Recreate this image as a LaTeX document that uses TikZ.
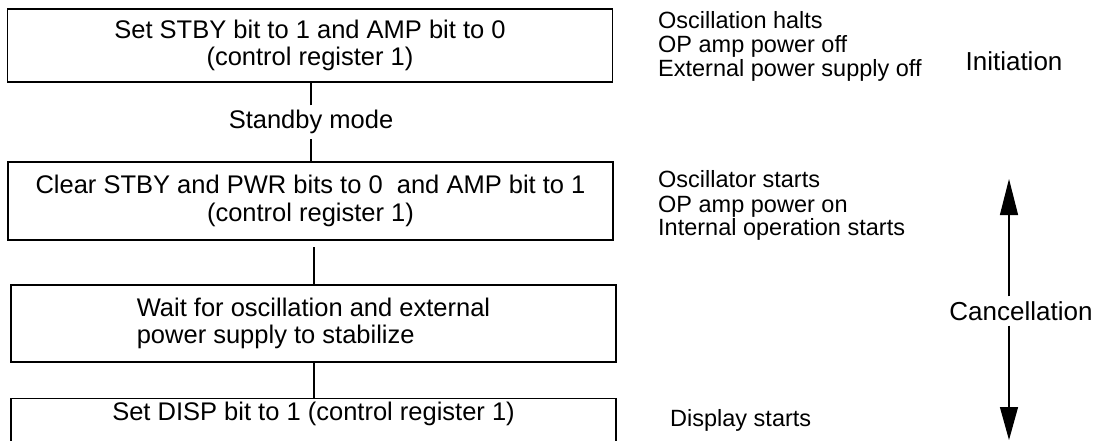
\documentclass[tikz,border=0pt]{standalone}
\usepackage{fontspec}
\setmainfont{Liberation Sans}
\usetikzlibrary{arrows.meta}
\begin{document}
\begin{tikzpicture}[x=1pt,y=-1pt,
  stepbox/.style={draw,line width=1.2pt,minimum width=605pt,inner sep=0pt,align=center,font=\fontsize{25.5}{27.5}\selectfont},
  note/.style={anchor=base west,inner sep=0pt,font=\fontsize{23.5}{24}\selectfont},
  phase/.style={inner sep=5pt,font=\fontsize{26}{28}\selectfont},
  wire/.style={line width=1.2pt}]
  \useasboundingbox (0,0) rectangle (1101,441);
  \node[stepbox,minimum height=73pt] (stby) at (310,45.5) {Set STBY bit to 1 and AMP bit to 0\\(control register 1)};
  \node[inner sep=5pt,anchor=base,font=\fontsize{25.5}{27.5}\selectfont] (sb) at (311,129) {Standby mode};
  \node[stepbox,minimum height=78pt] (clr) at (310.5,201) {Clear STBY and PWR bits to 0\ \ and AMP bit to 1\\(control register 1)};
  \node[stepbox,minimum height=77pt,align=left] (wait) at (313.5,323.5) {Wait for oscillation and external\\power supply to stabilize};
  \node[stepbox,anchor=north,minimum height=0pt,inner ysep=3pt,text height=19pt,text depth=40pt] (disp) at (313.5,398) {Set DISP bit to 1 (control register 1)};
  \draw[wire] (sb.north) -- (sb.north |- stby.south);
  \draw[wire] (sb.south) -- (sb.south |- clr.north);
  \coordinate (gap) at (314,247);
  \draw[wire] (gap) -- (gap |- wait.north);
  \draw[wire] (gap |- wait.south) -- (gap |- disp.north);
  \foreach \y/\lab [count=\i] in {29/Oscillation halts, 53/OP amp power off, 77/External power supply off}
    \node[note] (halt\i) at (658,\y) {\lab};
  \foreach \y/\lab [count=\i] in {188/Oscillator starts, 212/OP amp power on, 236/Internal operation starts}
    \node[note] (start\i) at (658,\y) {\lab};
  \node[note] (show) at (670,426) {Display starts};
  \node[phase] (init) at (1014,61) {Initiation};
  \node[phase] (can) at (1021,311) {Cancellation};
  \coordinate (up) at (1009,179);
  \coordinate (down) at (1009,440);
  \draw[wire,-{Triangle[length=36pt,width=18pt]}] (up |- can.north) -- (up);
  \draw[wire,-{Triangle[length=33pt,width=18pt]}] (down |- can.south) -- (down);
\end{tikzpicture}
\end{document}
